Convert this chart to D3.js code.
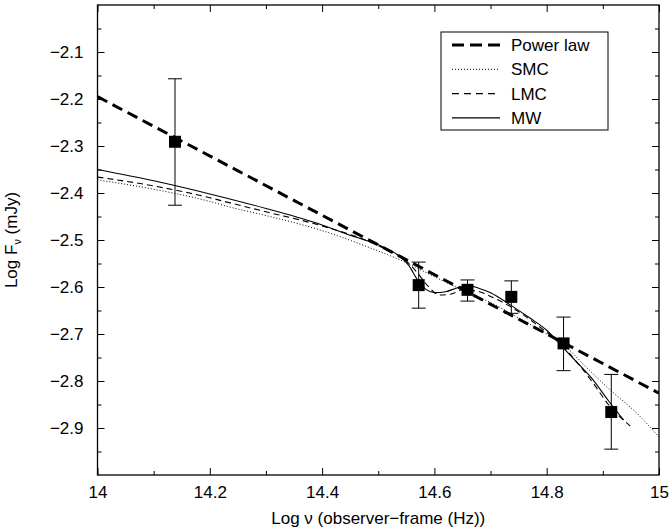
<!DOCTYPE html>
<html>
<head>
<meta charset="utf-8">
<script src="https://cdn.jsdelivr.net/npm/d3@7"></script>
<style>
  body { margin: 0; background: #fff; }
  svg { display: block; }
  text { font-family: "Liberation Sans", Arial, Helvetica, sans-serif; fill: #000; }
</style>
</head>
<body>
<svg id="chart" width="670" height="531"></svg>
<script>
// ---- data ----
const xTicksMajor = [14, 14.2, 14.4, 14.6, 14.8, 15];
const xTicksMinor = [14.1, 14.3, 14.5, 14.7, 14.9];
const yTicksMajor = [-2.1, -2.2, -2.3, -2.4, -2.5, -2.6, -2.7, -2.8, -2.9];
const yTicksMinor = [-2.05, -2.15, -2.25, -2.35, -2.45, -2.55, -2.65, -2.75, -2.85, -2.95];

// observed points: x, y, error-bar low, error-bar high
const obsX   = [14.138, 14.572, 14.659, 14.737, 14.830, 14.915];
const obsY   = [-2.291, -2.596, -2.606, -2.621, -2.720, -2.866];
const obsLo  = [-2.426, -2.645, -2.630, -2.656, -2.778, -2.945];
const obsHi  = [-2.157, -2.547, -2.585, -2.587, -2.664, -2.786];

const powerX = [14.0, 15.0];
const powerY = [-2.195, -2.826];

const smcX = [14.00, 14.10, 14.20, 14.236, 14.30, 14.40, 14.486, 14.54, 14.60, 14.66, 14.70, 14.75, 14.80, 14.83, 14.87, 14.913, 14.96, 15.00];
const smcY = [-2.372, -2.392, -2.418, -2.430, -2.448, -2.480, -2.517, -2.543, -2.578, -2.612, -2.633, -2.666, -2.700, -2.723, -2.770, -2.819, -2.868, -2.919];

const lmcX = [14.00, 14.10, 14.20, 14.236, 14.30, 14.40, 14.50, 14.55, 14.57, 14.59, 14.61, 14.63, 14.65, 14.68, 14.70, 14.74, 14.78, 14.83, 14.88, 14.91, 14.949];
const lmcY = [-2.366, -2.385, -2.410, -2.421, -2.440, -2.470, -2.512, -2.545, -2.570, -2.600, -2.617, -2.615, -2.606, -2.610, -2.620, -2.645, -2.678, -2.728, -2.800, -2.850, -2.896];

const mwX = [14.00, 14.10, 14.20, 14.30, 14.40, 14.45, 14.50, 14.53, 14.555, 14.57, 14.585, 14.60, 14.62, 14.64, 14.66, 14.68, 14.70, 14.735, 14.77, 14.80, 14.83, 14.86, 14.88, 14.91, 14.937];
const mwY = [-2.350, -2.374, -2.402, -2.433, -2.468, -2.490, -2.510, -2.528, -2.555, -2.585, -2.605, -2.612, -2.610, -2.602, -2.597, -2.603, -2.612, -2.638, -2.666, -2.692, -2.730, -2.768, -2.794, -2.842, -2.883];

const legendLabels = ["Power law", "SMC", "LMC", "MW"];

// ---- layout ----
const svg = d3.select("#chart");
const L = 97.5, R = 659, T = 5, B = 475;
const x = d3.scaleLinear().domain([14, 15]).range([L, R]);
const y = d3.scaleLinear().domain([-3.0, -2.0]).range([B, T]);
const fmt = d => d3.format(".1f")(d).replace("-", "\u2212");

const styles = [
  { w: 3,   dash: "11,6" },
  { w: 1,   dash: "1,2" },
  { w: 1.1, dash: "6,4" },
  { w: 1.1, dash: null }
];

// clip
svg.append("defs").append("clipPath").attr("id", "clip")
  .append("rect").attr("x", L).attr("y", T).attr("width", R - L).attr("height", B - T);

// ---- axes (ticks inward on all four sides) ----
const bottom = svg.append("g").attr("transform", `translate(0,${B})`)
  .call(d3.axisBottom(x).tickValues(xTicksMajor).tickSizeInner(-7).tickSizeOuter(0)
    .tickPadding(11).tickFormat(d => d3.format("")(d)));
bottom.selectAll(".tick text").attr("font-size", 17).attr("font-family", "Liberation Sans, Arial, sans-serif");
svg.append("g").attr("transform", `translate(0,${B})`)
  .call(d3.axisBottom(x).tickValues(xTicksMinor).tickSizeInner(-4).tickSizeOuter(0).tickFormat(""));

svg.append("g").attr("transform", `translate(0,${T})`)
  .call(d3.axisTop(x).tickValues(xTicksMajor).tickSizeInner(-7).tickSizeOuter(0).tickFormat(""));
svg.append("g").attr("transform", `translate(0,${T})`)
  .call(d3.axisTop(x).tickValues(xTicksMinor).tickSizeInner(-4).tickSizeOuter(0).tickFormat(""));

const left = svg.append("g").attr("transform", `translate(${L},0)`)
  .call(d3.axisLeft(y).tickValues(yTicksMajor).tickSizeInner(-7).tickSizeOuter(0)
    .tickPadding(14).tickFormat(fmt));
left.selectAll(".tick text").attr("font-size", 17).attr("font-family", "Liberation Sans, Arial, sans-serif");
svg.append("g").attr("transform", `translate(${L},0)`)
  .call(d3.axisLeft(y).tickValues(yTicksMinor).tickSizeInner(-4).tickSizeOuter(0).tickFormat(""));

svg.append("g").attr("transform", `translate(${R},0)`)
  .call(d3.axisRight(y).tickValues(yTicksMajor).tickSizeInner(-7).tickSizeOuter(0).tickFormat(""));
svg.append("g").attr("transform", `translate(${R},0)`)
  .call(d3.axisRight(y).tickValues(yTicksMinor).tickSizeInner(-4).tickSizeOuter(0).tickFormat(""));

svg.selectAll(".domain").remove();
svg.selectAll(".tick line").attr("stroke", "#000").attr("stroke-width", 1);

// frame
svg.append("rect").attr("x", L).attr("y", T).attr("width", R - L).attr("height", B - T)
  .attr("fill", "none").attr("stroke", "#000").attr("stroke-width", 1.3);

// ---- curves ----
const line = d3.line().x(d => x(d[0])).y(d => y(d[1])).curve(d3.curveMonotoneX);
const series = [
  d3.zip(powerX, powerY),
  d3.zip(smcX, smcY),
  d3.zip(lmcX, lmcY),
  d3.zip(mwX, mwY)
];
const plot = svg.append("g").attr("clip-path", "url(#clip)");
series.forEach((s, i) => {
  plot.append("path").datum(s).attr("d", line)
    .attr("fill", "none").attr("stroke", "#000")
    .attr("stroke-width", styles[i].w)
    .attr("stroke-dasharray", styles[i].dash);
});

// ---- observed points with error bars ----
const obs = obsX.map((v, i) => ({ x: v, y: obsY[i], lo: obsLo[i], hi: obsHi[i] }));
const eb = svg.append("g").attr("stroke", "#000").attr("stroke-width", 1);
eb.selectAll("line.v").data(obs).join("line")
  .attr("x1", d => x(d.x)).attr("x2", d => x(d.x))
  .attr("y1", d => y(d.lo)).attr("y2", d => y(d.hi));
eb.selectAll("line.lo").data(obs).join("line")
  .attr("x1", d => x(d.x) - 7).attr("x2", d => x(d.x) + 7)
  .attr("y1", d => y(d.lo)).attr("y2", d => y(d.lo));
eb.selectAll("line.hi").data(obs).join("line")
  .attr("x1", d => x(d.x) - 7).attr("x2", d => x(d.x) + 7)
  .attr("y1", d => y(d.hi)).attr("y2", d => y(d.hi));
svg.append("g").selectAll("rect").data(obs).join("rect")
  .attr("x", d => x(d.x) - 6).attr("y", d => y(d.y) - 6)
  .attr("width", 12).attr("height", 12).attr("fill", "#000");

// ---- legend ----
const lg = svg.append("g");
lg.append("rect").attr("x", 441).attr("y", 32).attr("width", 167).attr("height", 98)
  .attr("fill", "#fff").attr("stroke", "#000").attr("stroke-width", 1);
legendLabels.forEach((lab, i) => {
  const yy = 45 + i * 24.3;
  lg.append("line").attr("x1", 452).attr("x2", 500).attr("y1", yy).attr("y2", yy)
    .attr("stroke", "#000").attr("stroke-width", styles[i].w)
    .attr("stroke-dasharray", i === 0 ? "12,6" : (i === 2 ? "7,5" : styles[i].dash));
  lg.append("text").attr("x", 511).attr("y", yy).attr("dy", "0.36em")
    .attr("font-size", 17).text(lab);
});

// ---- axis titles ----
svg.append("text").attr("x", (L + R) / 2).attr("y", 524).attr("text-anchor", "middle")
  .attr("font-size", 17).text("Log \u03bd (observer\u2212frame (Hz))");

const yt = svg.append("text").attr("transform", `translate(17,${(T + B) / 2}) rotate(-90)`)
  .attr("text-anchor", "middle").attr("font-size", 17);
yt.append("tspan").text("Log F");
yt.append("tspan").attr("font-size", 11).attr("dy", 4).text("\u03bd");
yt.append("tspan").attr("dy", -4).text(" (mJy)");
</script>
</body>
</html>
